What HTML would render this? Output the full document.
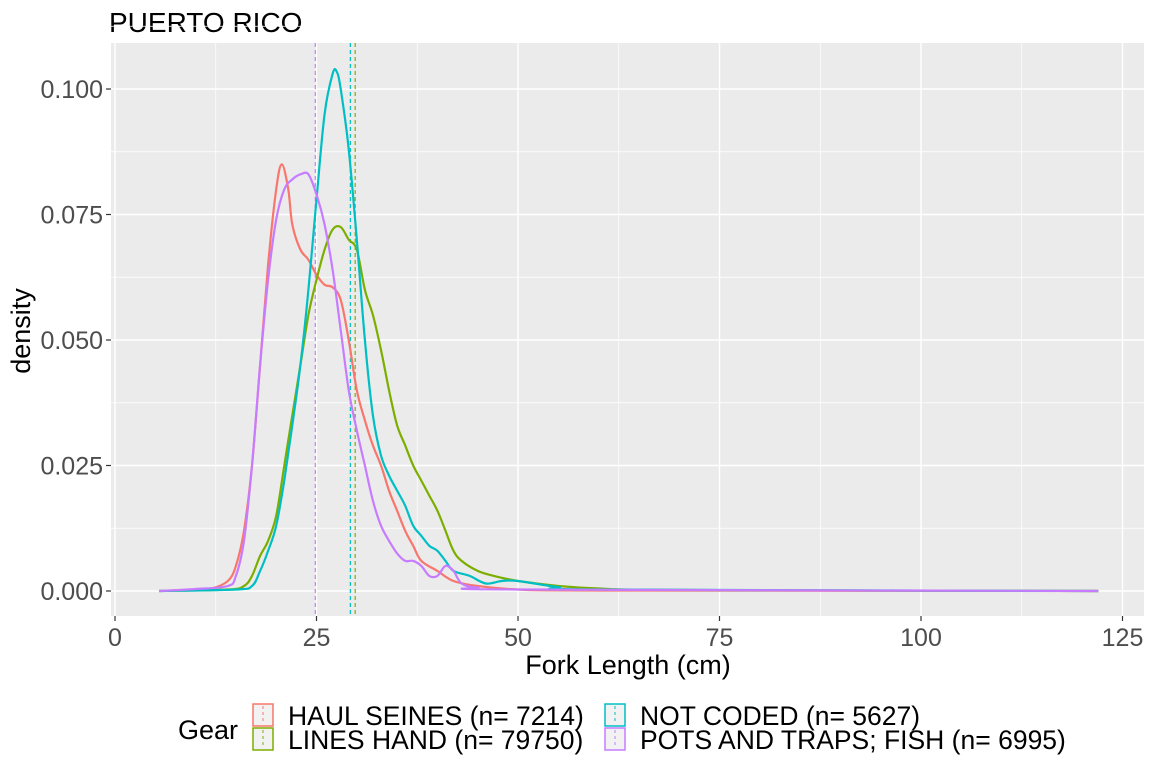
<!DOCTYPE html>
<html><head><meta charset="utf-8"><style>
body{margin:0;background:#fff;font-family:"Liberation Sans",sans-serif}
</style></head><body>
<svg width="1152" height="768" xmlns="http://www.w3.org/2000/svg" id="chart">
<text x="109" y="32" font-size="28" fill="#000">PUERTO RICO</text>
<rect x="111" y="43" width="1033" height="573" fill="#ebebeb"/>
<g id="grid"></g>
<g id="vlines"></g>
<g id="series"></g>
<g id="axes"></g>
<text x="628" y="674" font-size="27" text-anchor="middle">Fork Length (cm)</text>
<text transform="translate(30,331) rotate(-90)" font-size="27" text-anchor="middle">density</text>
<g id="legend">
<text x="178" y="739" font-size="27">Gear</text>
</g>
</svg>
<script>
const xTicks=[0,25,50,75,100,125];
const yTicks=[0,0.025,0.05,0.075,0.1];
const yTickLabels=["0.000","0.025","0.050","0.075","0.100"];
const seriesNames=["HAUL SEINES (n= 7214)","LINES HAND (n= 79750)","NOT CODED (n= 5627)","POTS AND TRAPS; FISH (n= 6995)"];
const seriesColors=["#F8766D","#7CAE00","#00BFC4","#C77CFF"];
const meanLines=[null,29.8,29.2,24.85];
const haulX=[5.5,10,12,14,15,16,17,18,19,20,20.7,21.5,22,23,24,25,26,27,28,29,30,31,32,33,34,35,36,37,38,40,42,45,50,60,122];
const haulY=[0,0.0003,0.0005,0.002,0.005,0.012,0.025,0.045,0.065,0.08,0.085,0.08,0.073,0.068,0.066,0.063,0.061,0.0605,0.058,0.05,0.04,0.034,0.029,0.025,0.02,0.016,0.012,0.009,0.006,0.004,0.002,0.001,0.0003,0.0001,0];
const linesX=[5.5,14,16,17,18,19,20,21,22,23,24,25,26,27,28,29,30,31,32,33,34,35,36,37,38,39,40,41,42,43,45,47,50,55,60,70,122];
const linesY=[0,0.0003,0.001,0.003,0.007,0.01,0.015,0.025,0.035,0.045,0.055,0.062,0.068,0.072,0.0725,0.07,0.068,0.06,0.055,0.048,0.04,0.033,0.029,0.025,0.022,0.019,0.016,0.012,0.008,0.006,0.004,0.003,0.002,0.001,0.0005,0.0002,0];
const notX=[5.5,15,17,18,19,20,21,22,23,24,25,26,27,27.5,28,29,30,31,32,33,34,35,36,37,38,39,40,41,42,44,46,48,50,55,60,122];
const notY=[0,0.0003,0.001,0.004,0.008,0.013,0.022,0.033,0.045,0.06,0.078,0.095,0.103,0.1035,0.1,0.088,0.07,0.05,0.035,0.027,0.023,0.02,0.017,0.013,0.011,0.009,0.008,0.006,0.004,0.003,0.0015,0.002,0.002,0.0008,0.0003,0];
const potsX=[5.5,10,14,15,16,17,18,19,20,21,22,23,24,25,26,27,28,29,30,31,32,33,34,35,36,37,38,39,40,41,42,43,45,50,122];
const potsY=[0,0.0004,0.001,0.003,0.01,0.025,0.045,0.062,0.074,0.08,0.082,0.083,0.083,0.079,0.073,0.064,0.052,0.04,0.032,0.025,0.018,0.013,0.01,0.0075,0.006,0.006,0.005,0.003,0.003,0.005,0.004,0.0015,0.0007,0.0003,0];
const allX=[haulX,linesX,notX,potsX], allY=[haulY,linesY,notY,potsY];
const NS="http://www.w3.org/2000/svg";
const sx=v=>115+v*(1122.5-115)/125;
const sy=v=>591-v*(591-89)/0.1;
function mk(tag,attrs,parent){const e=document.createElementNS(NS,tag);for(const k in attrs)e.setAttribute(k,attrs[k]);parent.appendChild(e);return e;}
const grid=document.getElementById('grid');
for(let i=0;i<xTicks.length;i++){
  const g=mk('line',{x1:sx(xTicks[i]),x2:sx(xTicks[i]),y1:43,y2:616,stroke:'#fff','stroke-width':1.4},grid);
  
  
  if(i<xTicks.length-1){const m=(xTicks[i]+xTicks[i+1])/2;
    const gm=mk('line',{x1:sx(m),x2:sx(m),y1:43,y2:616,stroke:'#fff','stroke-width':0.7},grid);
    
    }
}
for(let i=0;i<yTicks.length;i++){
  const g=mk('line',{x1:111,x2:1144,y1:sy(yTicks[i]),y2:sy(yTicks[i]),stroke:'#fff','stroke-width':1.4},grid);
  
  
  const m=yTicks[i]+0.0125;
  const gm=mk('line',{x1:111,x2:1144,y1:sy(m),y2:sy(m),stroke:'#fff','stroke-width':0.7},grid);
  
  
}
const axes=document.getElementById('axes');
xTicks.forEach(v=>{
  const t=mk('line',{x1:sx(v),x2:sx(v),y1:616,y2:621,stroke:'#333','stroke-width':1.2},axes);
  
  
  const l=mk('text',{x:sx(v),y:646,'font-size':25,fill:'#4d4d4d','text-anchor':'middle'},axes);
  l.textContent=v;
  
  
});
yTicks.forEach((v,i)=>{
  const t=mk('line',{x1:106,x2:111,y1:sy(v),y2:sy(v),stroke:'#333','stroke-width':1.2},axes);
  
  
  const l=mk('text',{x:103,y:sy(v)+9,'font-size':25,fill:'#4d4d4d','text-anchor':'end'},axes);
  l.textContent=yTickLabels[i];
  
  
});
const vl=document.getElementById('vlines');
meanLines.forEach((m,i)=>{ if(m===null)return;
  const l=mk('line',{x1:sx(m),x2:sx(m),y1:43,y2:616,stroke:seriesColors[i],'stroke-width':1.2,'stroke-dasharray':'4,3'},vl);
  
  
});
function smooth(pts){
  let d='M'+pts[0][0].toFixed(1)+','+pts[0][1].toFixed(1);
  for(let i=0;i<pts.length-1;i++){
    const p0=pts[i-1]||pts[i],p1=pts[i],p2=pts[i+1],p3=pts[i+2]||p2;
    const c1=[p1[0]+(p2[0]-p0[0])/6,p1[1]+(p2[1]-p0[1])/6];
    const c2=[p2[0]-(p3[0]-p1[0])/6,p2[1]-(p3[1]-p1[1])/6];
    d+='C'+c1[0].toFixed(1)+','+Math.min(591,c1[1]).toFixed(1)+' '+c2[0].toFixed(1)+','+Math.min(591,c2[1]).toFixed(1)+' '+p2[0].toFixed(1)+','+p2[1].toFixed(1);
  }
  return d;
}
const sg=document.getElementById('series');
allX.forEach((xs,i)=>{
  const pts=xs.map((x,j)=>[sx(x),sy(allY[i][j])]);
  const p=mk('path',{d:smooth(pts),fill:'none',stroke:seriesColors[i],'stroke-width':2.2,'stroke-linejoin':'round'},sg);
  
  
});
const lg=document.getElementById('legend');
const pos=[[252,704],[252,728],[604,704],[604,728]];
[0,1,2,3].forEach(k=>{
  const [x,y]=pos[k];
  const r=mk('rect',{x:x+1,y:y,width:20,height:22,fill:'#f2f2f2',stroke:seriesColors[k],'stroke-width':1.5},lg);
  
  
  mk('line',{x1:x+11,x2:x+11,y1:y+2,y2:y+20,stroke:seriesColors[k],'stroke-width':1,'stroke-dasharray':'3,3'},lg);
  const t=mk('text',{x:x+36,y:y+21,'font-size':26.5},lg);
  t.textContent=seriesNames[k];
  
  
});
</script>
</body></html>
